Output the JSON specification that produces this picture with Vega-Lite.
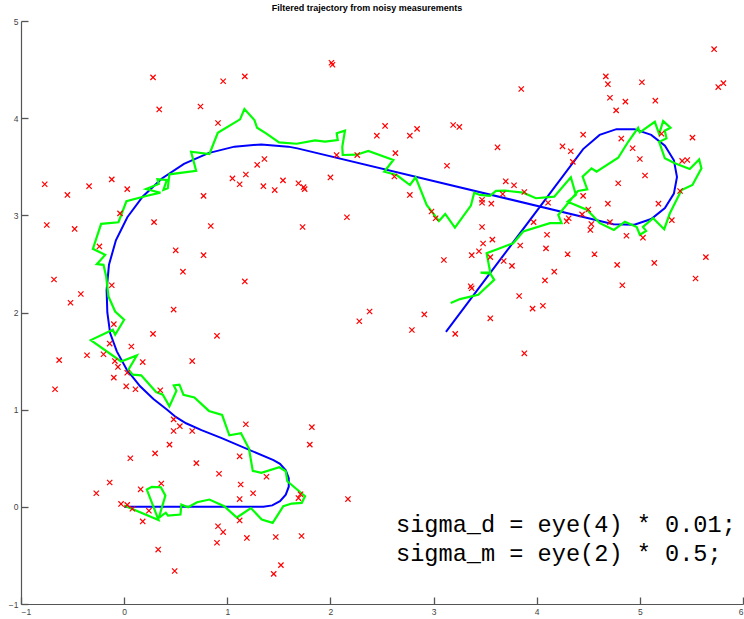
{
  "$schema": "https://vega.github.io/schema/vega-lite/v6.json",
  "autosize": {"type": "none"},
  "padding": {"left": 21, "top": 21, "right": 1, "bottom": 15},
  "width": 722,
  "height": 583,
  "title": {"text": "Filtered trajectory from noisy measurements", "font": "Liberation Sans", "fontSize": 9, "fontWeight": "bold", "color": "#000000", "offset": 4, "dx": -15},
  "config": {
    "view": {"stroke": null},
    "axis": {"grid": false, "title": null, "domainColor": "#555555", "domainWidth": 1.2, "tickColor": "#555555", "tickWidth": 1.3, "tickSize": -7, "labelColor": "#444444", "labelFont": "Liberation Sans", "labelFontSize": 8.5, "labelPadding": 10}
  },
  "datasets": {
    "truth": [
      {"i": 0, "x": 0, "y": 0}, {"i": 1, "x": 1.35, "y": 0}, {"i": 2, "x": 1.436, "y": 0.015}, {"i": 3, "x": 1.511, "y": 0.059}, {"i": 4, "x": 1.567, "y": 0.125}, {"i": 5, "x": 1.596, "y": 0.207}, {"i": 6, "x": 1.596, "y": 0.294}, {"i": 7, "x": 1.567, "y": 0.375}, {"i": 8, "x": 1.511, "y": 0.442}, {"i": 9, "x": 1.448, "y": 0.48},
      {"i": 10, "x": 0.94, "y": 0.709}, {"i": 11, "x": 0.75, "y": 0.79}, {"i": 12, "x": 0.6, "y": 0.86}, {"i": 13, "x": 0.5, "y": 0.925}, {"i": 14, "x": 0.423, "y": 0.995}, {"i": 15, "x": 0.284, "y": 1.11}, {"i": 16, "x": 0.155, "y": 1.24}, {"i": 17, "x": 0.026, "y": 1.411}, {"i": 18, "x": -0.071, "y": 1.6}, {"i": 19, "x": -0.136, "y": 1.788},
      {"i": 20, "x": -0.163, "y": 2.0}, {"i": 21, "x": -0.17, "y": 2.23}, {"i": 22, "x": -0.147, "y": 2.491}, {"i": 23, "x": -0.08, "y": 2.743}, {"i": 24, "x": 0.031, "y": 2.98}, {"i": 25, "x": 0.181, "y": 3.194}, {"i": 26, "x": 0.366, "y": 3.379}, {"i": 27, "x": 0.58, "y": 3.529}, {"i": 28, "x": 0.817, "y": 3.64}, {"i": 29, "x": 1.069, "y": 3.707},
      {"i": 30, "x": 1.33, "y": 3.73}, {"i": 31, "x": 1.591, "y": 3.707}, {"i": 32, "x": 1.68, "y": 3.689}, {"i": 33, "x": 4.743, "y": 2.909}, {"i": 34, "x": 4.947, "y": 2.903}, {"i": 35, "x": 5.11, "y": 2.962}, {"i": 36, "x": 5.243, "y": 3.074}, {"i": 37, "x": 5.33, "y": 3.224}, {"i": 38, "x": 5.36, "y": 3.395}, {"i": 39, "x": 5.33, "y": 3.566},
      {"i": 40, "x": 5.243, "y": 3.716}, {"i": 41, "x": 5.11, "y": 3.828}, {"i": 42, "x": 4.947, "y": 3.887}, {"i": 43, "x": 4.773, "y": 3.887}, {"i": 44, "x": 4.61, "y": 3.828}, {"i": 45, "x": 4.45, "y": 3.682}, {"i": 46, "x": 3.12, "y": 1.8}
    ],
    "est": [
      {"i": 0, "x": 0.0, "y": 0.013}, {"i": 1, "x": 0.333, "y": -0.135}, {"i": 2, "x": 0.22, "y": 0.178}, {"i": 3, "x": 0.268, "y": 0.206}, {"i": 4, "x": 0.356, "y": 0.202}, {"i": 5, "x": 0.4, "y": 0.115}, {"i": 6, "x": 0.336, "y": -0.113}, {"i": 7, "x": 0.404, "y": -0.06}, {"i": 8, "x": 0.425, "y": -0.09}, {"i": 9, "x": 0.546, "y": -0.079},
      {"i": 10, "x": 0.555, "y": 0.024}, {"i": 11, "x": 0.62, "y": -0.004}, {"i": 12, "x": 0.707, "y": 0.047}, {"i": 13, "x": 0.827, "y": 0.075}, {"i": 14, "x": 0.97, "y": 0.006}, {"i": 15, "x": 1.093, "y": -0.11}, {"i": 16, "x": 1.229, "y": -0.013}, {"i": 17, "x": 1.334, "y": -0.131}, {"i": 18, "x": 1.44, "y": -0.165}, {"i": 19, "x": 1.543, "y": 0.006},
      {"i": 20, "x": 1.625, "y": 0.034}, {"i": 21, "x": 1.722, "y": 0.041}, {"i": 22, "x": 1.754, "y": 0.109}, {"i": 23, "x": 1.582, "y": 0.263}, {"i": 24, "x": 1.567, "y": 0.366}, {"i": 25, "x": 1.505, "y": 0.407}, {"i": 26, "x": 1.33, "y": 0.349}, {"i": 27, "x": 1.247, "y": 0.37}, {"i": 28, "x": 1.21, "y": 0.6}, {"i": 29, "x": 1.133, "y": 0.757},
      {"i": 30, "x": 1.02, "y": 0.736}, {"i": 31, "x": 0.95, "y": 0.945}, {"i": 32, "x": 0.822, "y": 0.987}, {"i": 33, "x": 0.681, "y": 1.126}, {"i": 34, "x": 0.575, "y": 1.154}, {"i": 35, "x": 0.536, "y": 1.257}, {"i": 36, "x": 0.481, "y": 1.25}, {"i": 37, "x": 0.507, "y": 1.195}, {"i": 38, "x": 0.439, "y": 1.034}, {"i": 39, "x": 0.375, "y": 1.154},
      {"i": 40, "x": 0.31, "y": 1.182}, {"i": 41, "x": 0.165, "y": 1.353}, {"i": 42, "x": 0.084, "y": 1.36}, {"i": 43, "x": 0.042, "y": 1.411}, {"i": 44, "x": 0.123, "y": 1.558}, {"i": 45, "x": -0.03, "y": 1.496}, {"i": 46, "x": -0.323, "y": 1.716}, {"i": 47, "x": -0.11, "y": 1.822}, {"i": 48, "x": -0.087, "y": 1.771}, {"i": 49, "x": 0.0, "y": 1.925},
      {"i": 50, "x": -0.087, "y": 2.01}, {"i": 51, "x": -0.152, "y": 2.164}, {"i": 52, "x": -0.174, "y": 2.37}, {"i": 53, "x": -0.2, "y": 2.49}, {"i": 54, "x": -0.265, "y": 2.497}, {"i": 55, "x": -0.184, "y": 2.593}, {"i": 56, "x": -0.303, "y": 2.655}, {"i": 57, "x": -0.223, "y": 2.912}, {"i": 58, "x": -0.055, "y": 2.929}, {"i": 59, "x": 0.022, "y": 3.145},
      {"i": 60, "x": 0.213, "y": 3.199}, {"i": 61, "x": 0.352, "y": 3.233}, {"i": 62, "x": 0.213, "y": 3.271}, {"i": 63, "x": 0.336, "y": 3.323}, {"i": 64, "x": 0.323, "y": 3.371}, {"i": 65, "x": 0.414, "y": 3.364}, {"i": 66, "x": 0.381, "y": 3.261}, {"i": 67, "x": 0.423, "y": 3.278}, {"i": 68, "x": 0.439, "y": 3.422}, {"i": 69, "x": 0.698, "y": 3.459},
      {"i": 70, "x": 0.649, "y": 3.655}, {"i": 71, "x": 0.827, "y": 3.631}, {"i": 72, "x": 0.908, "y": 3.85}, {"i": 73, "x": 1.124, "y": 3.988}, {"i": 74, "x": 1.166, "y": 4.094}, {"i": 75, "x": 1.263, "y": 3.981}, {"i": 76, "x": 1.289, "y": 3.901}, {"i": 77, "x": 1.376, "y": 3.844}, {"i": 78, "x": 1.502, "y": 3.751}, {"i": 79, "x": 1.673, "y": 3.737},
      {"i": 80, "x": 1.851, "y": 3.772}, {"i": 81, "x": 1.948, "y": 3.758}, {"i": 82, "x": 2.071, "y": 3.775}, {"i": 83, "x": 2.061, "y": 3.844}, {"i": 84, "x": 2.141, "y": 3.871}, {"i": 85, "x": 2.115, "y": 3.706}, {"i": 86, "x": 2.119, "y": 3.621}, {"i": 87, "x": 2.255, "y": 3.624}, {"i": 88, "x": 2.367, "y": 3.662}, {"i": 89, "x": 2.61, "y": 3.569},
      {"i": 90, "x": 2.522, "y": 3.449}, {"i": 91, "x": 2.642, "y": 3.415}, {"i": 92, "x": 2.771, "y": 3.312}, {"i": 93, "x": 2.826, "y": 3.392}, {"i": 94, "x": 2.933, "y": 3.107}, {"i": 95, "x": 3.052, "y": 2.942}, {"i": 96, "x": 3.113, "y": 3.014}, {"i": 97, "x": 3.207, "y": 2.874}, {"i": 98, "x": 3.362, "y": 3.1}, {"i": 99, "x": 3.394, "y": 3.233},
      {"i": 100, "x": 3.45, "y": 3.21}, {"i": 101, "x": 3.547, "y": 3.2}, {"i": 102, "x": 3.605, "y": 3.251}, {"i": 103, "x": 3.692, "y": 3.254}, {"i": 104, "x": 3.869, "y": 3.233}, {"i": 105, "x": 3.992, "y": 3.176}, {"i": 106, "x": 4.17, "y": 3.192}, {"i": 107, "x": 4.331, "y": 3.392}, {"i": 108, "x": 4.38, "y": 3.21}, {"i": 109, "x": 4.3, "y": 3.14},
      {"i": 110, "x": 4.49, "y": 3.056}, {"i": 111, "x": 4.612, "y": 2.919}, {"i": 112, "x": 4.748, "y": 2.85}, {"i": 113, "x": 4.855, "y": 2.935}, {"i": 114, "x": 4.97, "y": 2.88}, {"i": 115, "x": 5.0, "y": 2.8}, {"i": 116, "x": 5.06, "y": 2.84}, {"i": 117, "x": 5.03, "y": 2.88}, {"i": 118, "x": 5.129, "y": 2.97}, {"i": 119, "x": 5.236, "y": 2.857},
      {"i": 120, "x": 5.291, "y": 3.021}, {"i": 121, "x": 5.404, "y": 3.261}, {"i": 122, "x": 5.51, "y": 3.312}, {"i": 123, "x": 5.597, "y": 3.484}, {"i": 124, "x": 5.575, "y": 3.576}, {"i": 125, "x": 5.484, "y": 3.477}, {"i": 126, "x": 5.339, "y": 3.535}, {"i": 127, "x": 5.242, "y": 3.587}, {"i": 128, "x": 5.187, "y": 3.757}, {"i": 129, "x": 5.258, "y": 3.792},
      {"i": 130, "x": 5.242, "y": 3.871}, {"i": 131, "x": 5.297, "y": 3.901}, {"i": 132, "x": 5.226, "y": 3.97}, {"i": 133, "x": 5.187, "y": 3.837}, {"i": 134, "x": 5.145, "y": 3.963}, {"i": 135, "x": 5.0, "y": 3.854}, {"i": 136, "x": 4.983, "y": 3.901}, {"i": 137, "x": 4.887, "y": 3.757}, {"i": 138, "x": 4.79, "y": 3.593}, {"i": 139, "x": 4.58, "y": 3.449},
      {"i": 140, "x": 4.532, "y": 3.484}, {"i": 141, "x": 4.445, "y": 3.398}, {"i": 142, "x": 4.49, "y": 3.268}, {"i": 143, "x": 4.4, "y": 3.25}, {"i": 144, "x": 4.209, "y": 3.004}, {"i": 145, "x": 4.241, "y": 2.919}, {"i": 146, "x": 4.128, "y": 2.919}, {"i": 147, "x": 3.869, "y": 2.833}, {"i": 148, "x": 3.772, "y": 2.713}, {"i": 149, "x": 3.643, "y": 2.662},
      {"i": 150, "x": 3.514, "y": 2.61}, {"i": 151, "x": 3.55, "y": 2.41}, {"i": 152, "x": 3.456, "y": 2.411}, {"i": 153, "x": 3.55, "y": 2.4}, {"i": 154, "x": 3.588, "y": 2.336}, {"i": 155, "x": 3.433, "y": 2.182}, {"i": 156, "x": 3.256, "y": 2.138}, {"i": 157, "x": 3.166, "y": 2.097}
    ],
    "meas": [
      {"x": 0.28, "y": 4.42}, {"x": 0.96, "y": 4.38}, {"x": 1.17, "y": 4.43}, {"x": 0.34, "y": 4.09}, {"x": 0.74, "y": 4.12}, {"x": 0.91, "y": 3.95}, {"x": 1.29, "y": 3.52}, {"x": 1.36, "y": 3.58}, {"x": 1.18, "y": 3.42}, {"x": 1.05, "y": 3.38},
      {"x": 1.12, "y": 3.32}, {"x": 1.35, "y": 3.3}, {"x": -0.77, "y": 3.32}, {"x": -0.55, "y": 3.21}, {"x": -0.34, "y": 3.3}, {"x": -0.12, "y": 3.37}, {"x": 0.03, "y": 3.27}, {"x": 0.77, "y": 3.2}, {"x": -0.75, "y": 2.9}, {"x": -0.48, "y": 2.86},
      {"x": -0.04, "y": 3.02}, {"x": 0.29, "y": 2.93}, {"x": 0.84, "y": 2.89}, {"x": -0.24, "y": 2.68}, {"x": 0.5, "y": 2.64}, {"x": 0.77, "y": 2.59}, {"x": 0.57, "y": 2.42}, {"x": 1.17, "y": 2.32}, {"x": -0.68, "y": 2.34}, {"x": -0.42, "y": 2.19},
      {"x": -0.52, "y": 2.1}, {"x": -0.12, "y": 2.28}, {"x": 0.48, "y": 2.03}, {"x": -0.1, "y": 1.88}, {"x": 0.28, "y": 1.78}, {"x": 0.9, "y": 1.76}, {"x": -0.14, "y": 1.68}, {"x": 0.07, "y": 1.65}, {"x": -0.63, "y": 1.51}, {"x": -0.36, "y": 1.56},
      {"x": -0.2, "y": 1.57}, {"x": -0.09, "y": 1.5}, {"x": -0.06, "y": 1.44}, {"x": 0.18, "y": 1.49}, {"x": 0.66, "y": 1.5}, {"x": 0.03, "y": 1.38}, {"x": -0.1, "y": 1.33}, {"x": -0.67, "y": 1.21}, {"x": 0.02, "y": 1.24}, {"x": 0.11, "y": 1.21},
      {"x": 0.35, "y": 1.2}, {"x": 0.48, "y": 0.9}, {"x": 0.54, "y": 0.83}, {"x": 0.48, "y": 0.78}, {"x": 0.66, "y": 0.78}, {"x": 1.18, "y": 0.85}, {"x": 0.44, "y": 0.64}, {"x": 0.3, "y": 0.55}, {"x": 0.06, "y": 0.5}, {"x": 0.7, "y": 0.45},
      {"x": 1.12, "y": 0.52}, {"x": 0.92, "y": 0.34}, {"x": -0.14, "y": 0.25}, {"x": -0.27, "y": 0.14}, {"x": 0.16, "y": 0.18}, {"x": 0.36, "y": 0.24}, {"x": 1.13, "y": 0.23}, {"x": 1.12, "y": 0.08}, {"x": 1.25, "y": 0.14}, {"x": 1.38, "y": 0.31},
      {"x": -0.03, "y": 0.03}, {"x": 0.03, "y": 0.02}, {"x": 0.08, "y": -0.02}, {"x": 0.24, "y": -0.04}, {"x": 0.18, "y": -0.15}, {"x": 0.91, "y": -0.2}, {"x": 0.96, "y": -0.26}, {"x": 1.12, "y": -0.14}, {"x": 1.19, "y": -0.32}, {"x": 0.9, "y": -0.37},
      {"x": 0.33, "y": -0.44}, {"x": 0.49, "y": -0.66}, {"x": 1.47, "y": -0.31}, {"x": 1.72, "y": -0.3}, {"x": 1.52, "y": -0.6}, {"x": 1.45, "y": -0.69}, {"x": 1.82, "y": 0.82}, {"x": 1.8, "y": 0.64}, {"x": 1.69, "y": 0.09}, {"x": 1.71, "y": 0.13},
      {"x": 2.17, "y": 0.08}, {"x": 2.28, "y": 1.91}, {"x": 2.38, "y": 2.01}, {"x": 2.79, "y": 1.82}, {"x": 2.91, "y": 1.98}, {"x": 3.21, "y": 1.78}, {"x": 3.55, "y": 1.94}, {"x": 2.01, "y": 4.57}, {"x": 2.02, "y": 4.55}, {"x": 2.53, "y": 3.92},
      {"x": 2.45, "y": 3.82}, {"x": 2.77, "y": 3.82}, {"x": 2.84, "y": 3.89}, {"x": 3.19, "y": 3.93}, {"x": 3.25, "y": 3.91}, {"x": 3.62, "y": 3.7}, {"x": 2.63, "y": 3.64}, {"x": 2.06, "y": 3.62}, {"x": 2.26, "y": 3.62}, {"x": 3.13, "y": 3.51},
      {"x": 2.0, "y": 3.39}, {"x": 2.62, "y": 3.4}, {"x": 1.54, "y": 3.36}, {"x": 1.46, "y": 3.26}, {"x": 1.69, "y": 3.33}, {"x": 1.74, "y": 3.29}, {"x": 1.75, "y": 3.27}, {"x": 2.77, "y": 3.21}, {"x": 3.47, "y": 3.16}, {"x": 3.47, "y": 3.13},
      {"x": 3.56, "y": 3.12}, {"x": 2.98, "y": 3.04}, {"x": 3.02, "y": 2.97}, {"x": 2.16, "y": 2.98}, {"x": 1.73, "y": 2.88}, {"x": 3.47, "y": 2.88}, {"x": 3.48, "y": 2.71}, {"x": 3.57, "y": 2.75}, {"x": 3.44, "y": 2.63}, {"x": 3.37, "y": 2.59},
      {"x": 3.55, "y": 2.57}, {"x": 3.1, "y": 2.54}, {"x": 3.36, "y": 2.27}, {"x": 3.37, "y": 2.25}, {"x": 3.88, "y": 1.58}, {"x": 3.85, "y": 4.3}, {"x": 4.67, "y": 4.43}, {"x": 4.69, "y": 4.35}, {"x": 5.02, "y": 4.37}, {"x": 5.81, "y": 4.36},
      {"x": 5.76, "y": 4.32}, {"x": 4.71, "y": 4.21}, {"x": 4.86, "y": 4.17}, {"x": 5.15, "y": 4.18}, {"x": 4.77, "y": 4.08}, {"x": 4.45, "y": 3.83}, {"x": 4.82, "y": 3.79}, {"x": 5.21, "y": 3.84}, {"x": 5.51, "y": 3.8}, {"x": 4.25, "y": 3.71},
      {"x": 4.33, "y": 3.66}, {"x": 4.93, "y": 3.69}, {"x": 4.35, "y": 3.55}, {"x": 5.0, "y": 3.58}, {"x": 5.41, "y": 3.56}, {"x": 5.46, "y": 3.57}, {"x": 5.05, "y": 3.41}, {"x": 4.79, "y": 3.33}, {"x": 3.7, "y": 3.35}, {"x": 3.78, "y": 3.31},
      {"x": 3.88, "y": 3.24}, {"x": 3.67, "y": 3.22}, {"x": 4.45, "y": 3.2}, {"x": 4.11, "y": 3.13}, {"x": 4.69, "y": 3.12}, {"x": 5.18, "y": 3.12}, {"x": 5.39, "y": 3.25}, {"x": 4.5, "y": 3.06}, {"x": 4.44, "y": 3.01}, {"x": 4.31, "y": 2.97},
      {"x": 4.29, "y": 2.94}, {"x": 4.53, "y": 2.91}, {"x": 4.52, "y": 2.85}, {"x": 3.97, "y": 2.93}, {"x": 4.71, "y": 2.93}, {"x": 5.31, "y": 2.95}, {"x": 4.87, "y": 2.79}, {"x": 5.03, "y": 2.77}, {"x": 4.1, "y": 2.8}, {"x": 3.84, "y": 2.69},
      {"x": 4.09, "y": 2.66}, {"x": 3.68, "y": 2.53}, {"x": 3.76, "y": 2.48}, {"x": 4.3, "y": 2.6}, {"x": 4.56, "y": 2.6}, {"x": 4.78, "y": 2.49}, {"x": 5.14, "y": 2.51}, {"x": 5.64, "y": 2.57}, {"x": 4.17, "y": 2.42}, {"x": 4.08, "y": 2.33},
      {"x": 4.83, "y": 2.28}, {"x": 5.54, "y": 2.35}, {"x": 3.83, "y": 2.17}, {"x": 3.96, "y": 2.04}, {"x": 4.06, "y": 2.07}, {"x": 5.72, "y": 4.71}
    ],
    "notes": [
      {"x": 2.636, "y": -0.254, "t": "sigma_d = eye(4) * 0.01;"},
      {"x": 2.636, "y": -0.562, "t": "sigma_m = eye(2) * 0.5;"}
    ]
  },
  "encoding": {
    "x": {"field": "x", "type": "quantitative", "scale": {"domain": [-1, 6], "nice": false, "zero": false}, "axis": {"values": [-1, 0, 1, 2, 3, 4, 5, 6]}},
    "y": {"field": "y", "type": "quantitative", "scale": {"domain": [-1, 5], "nice": false, "zero": false}, "axis": {"values": [-1, 0, 1, 2, 3, 4, 5]}}
  },
  "layer": [
    {"data": {"name": "truth"}, "mark": {"type": "line", "color": "#0000ff", "strokeWidth": 2, "clip": true}, "encoding": {"order": {"field": "i", "type": "quantitative"}}},
    {"data": {"name": "est"}, "mark": {"type": "line", "color": "#00ff00", "strokeWidth": 2.2, "clip": true}, "encoding": {"order": {"field": "i", "type": "quantitative"}}},
    {"data": {"name": "meas"}, "mark": {"type": "point", "shape": "M-1,-1L1,1M-1,1L1,-1", "size": 28, "filled": false, "stroke": "#ff0000", "strokeWidth": 1.2, "opacity": 1}},
    {"data": {"name": "notes"}, "mark": {"type": "text", "align": "left", "baseline": "alphabetic", "font": "Liberation Mono", "fontSize": 23.6, "color": "#000000"}, "encoding": {"text": {"field": "t", "type": "nominal"}}}
  ]
}
